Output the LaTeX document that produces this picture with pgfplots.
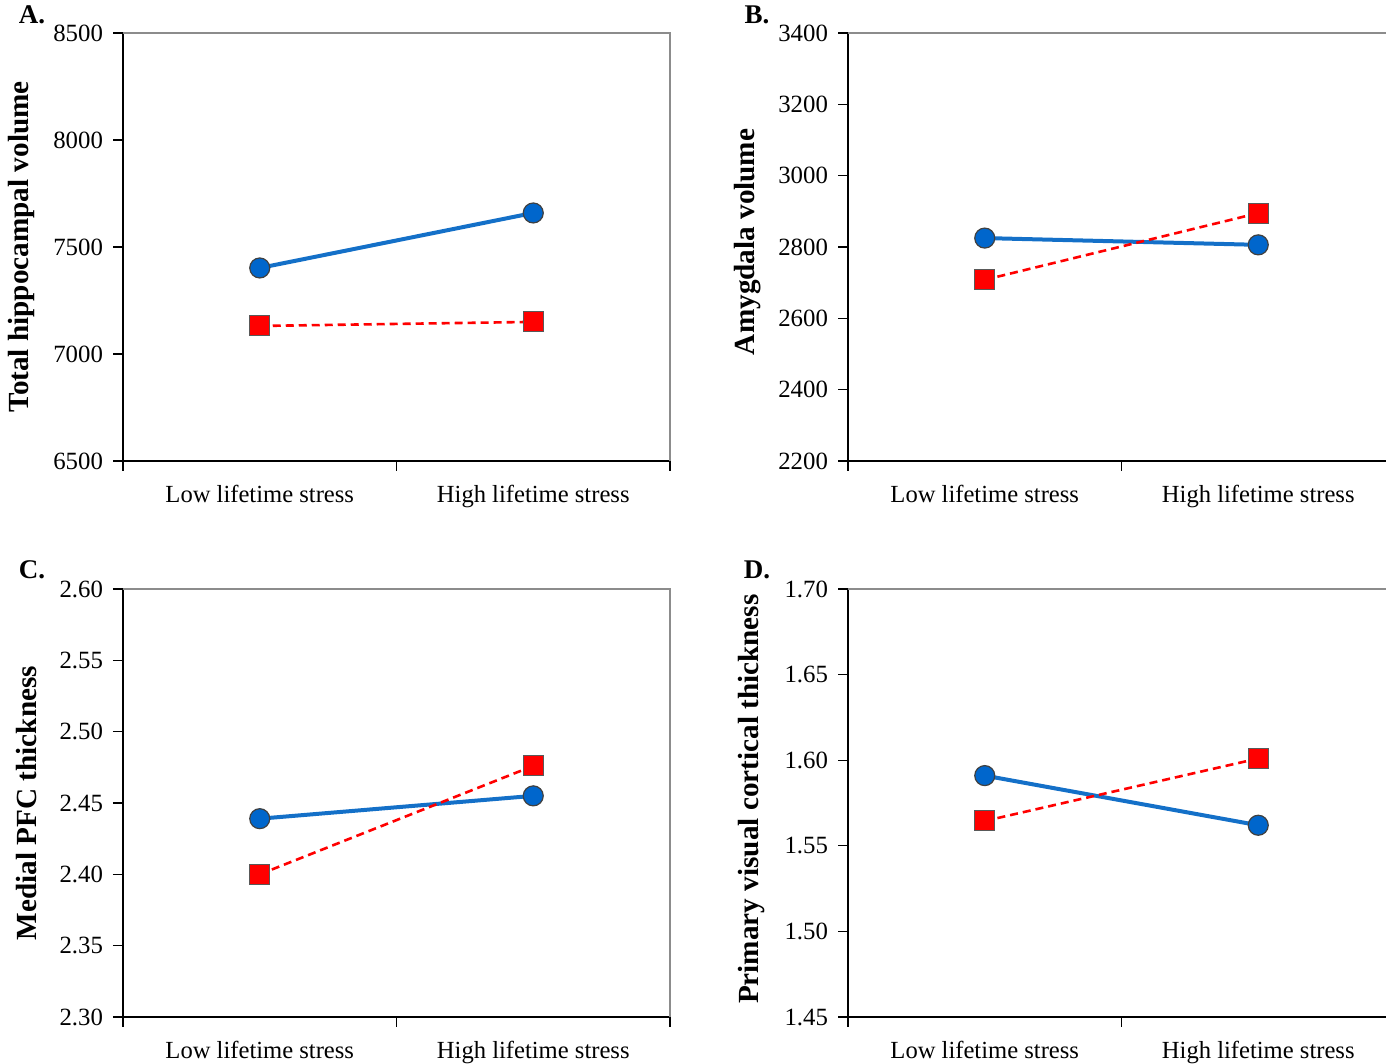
\documentclass[border=0pt]{standalone}
\usepackage{pgfplots}
\pgfplotsset{compat=1.18}
\usepackage{fontspec}
\setmainfont{Liberation Serif}
\definecolor{lineblue}{RGB}{20,112,200}
\definecolor{markblue}{RGB}{0,102,204}
\definecolor{mred}{RGB}{255,0,0}
\pgfplotsset{panel/.style={
  width=273.5pt, height=214pt, scale only axis,
  xmin=0, xmax=2, xtick={0,1,2}, x tick label as interval,
  xticklabels={Low lifetime stress,High lifetime stress},
  axis x line*=bottom, axis y line*=left,
  axis line style={-, black, line width=0.7pt},
  tick align=outside, major tick length=5pt,
  tick style={black, line width=0.6pt},
  ticklabel style={font=\fontsize{12.4}{14}\selectfont},
  x tick label style={yshift=-3.5pt, font=\fontsize{12.3}{14}\selectfont},
  y tick label style={xshift=-1.5pt},
  /pgf/number format/assume math mode=true,
  /pgf/number format/1000 sep={},
  ylabel style={font=\fontsize{14.6}{16}\selectfont\bfseries, anchor=center},
  clip=false,
}}
\newcommand{\boxtop}{\draw[black!45, line width=0.6pt] (rel axis cs:0,1) -- (rel axis cs:1,1) -- (rel axis cs:1,0);}
\pgfplotsset{
  blueser/.style={color=lineblue, line width=2pt, mark=*, mark size=5pt, mark options={fill=markblue, draw=black!75, line width=0.6pt, solid}},
  redser/.style={color=mred, dash pattern=on 4pt off 2.5pt, line width=1.3pt, mark=square*, mark size=5pt, mark options={fill=mred, draw=black!65, line width=0.5pt, solid}},
}
\begin{document}
\begin{tikzpicture}
% Panel A
\begin{axis}[panel, at={(61.5pt,301.5pt)}, anchor=south west,
  ymin=6500, ymax=8500, ytick={6500,7000,7500,8000,8500},
  ylabel={Total hippocampal volume},
  ylabel style={at={(axis description cs:-0.185,0.5)}}]
\boxtop
\addplot[blueser] coordinates {(0.5,7402) (1.5,7659)};
\addplot[redser] coordinates {(0.5,7131) (1.5,7150)};
\end{axis}
% Panel B
\begin{axis}[panel, at={(424pt,301.5pt)}, anchor=south west,
  ymin=2200, ymax=3400, ytick={2200,2400,2600,2800,3000,3200,3400},
  ylabel={Amygdala volume},
  ylabel style={at={(axis description cs:-0.183,0.512)}}]
\boxtop
\addplot[blueser] coordinates {(0.5,2825) (1.5,2806)};
\addplot[redser] coordinates {(0.5,2708) (1.5,2895)};
\end{axis}
% Panel C
\begin{axis}[panel, at={(61.5pt,23.5pt)}, anchor=south west,
  ymin=2.30, ymax=2.60, ytick={2.30,2.35,2.40,2.45,2.50,2.55,2.60},
  yticklabel style={/pgf/number format/.cd, fixed, fixed zerofill, precision=2},
  ylabel={Medial PFC  thickness},
  ylabel style={at={(axis description cs:-0.176,0.5)}}]
\boxtop
\addplot[blueser] coordinates {(0.5,2.439) (1.5,2.455)};
\addplot[redser] coordinates {(0.5,2.400) (1.5,2.476)};
\end{axis}
% Panel D
\begin{axis}[panel, at={(424pt,23.5pt)}, anchor=south west,
  ymin=1.45, ymax=1.70, ytick={1.45,1.50,1.55,1.60,1.65,1.70},
  yticklabel style={/pgf/number format/.cd, fixed, fixed zerofill, precision=2},
  ylabel={Primary visual cortical thickness},
  ylabel style={at={(axis description cs:-0.176,0.509)}}]
\boxtop
\addplot[blueser] coordinates {(0.5,1.591) (1.5,1.562)};
\addplot[redser] coordinates {(0.5,1.5645) (1.5,1.601)};
\end{axis}
\node[font=\fontsize{13.5}{15}\selectfont\bfseries] at (16pt,524.5pt) {A.};
\node[font=\fontsize{13.5}{15}\selectfont\bfseries] at (378.5pt,524.5pt) {B.};
\node[font=\fontsize{13.5}{15}\selectfont\bfseries] at (16pt,247pt) {C.};
\node[font=\fontsize{13.5}{15}\selectfont\bfseries] at (378.5pt,247pt) {D.};
\pgfresetboundingbox
\path[use as bounding box] (0,0) rectangle (693pt,532pt);
\end{tikzpicture}
\end{document}
